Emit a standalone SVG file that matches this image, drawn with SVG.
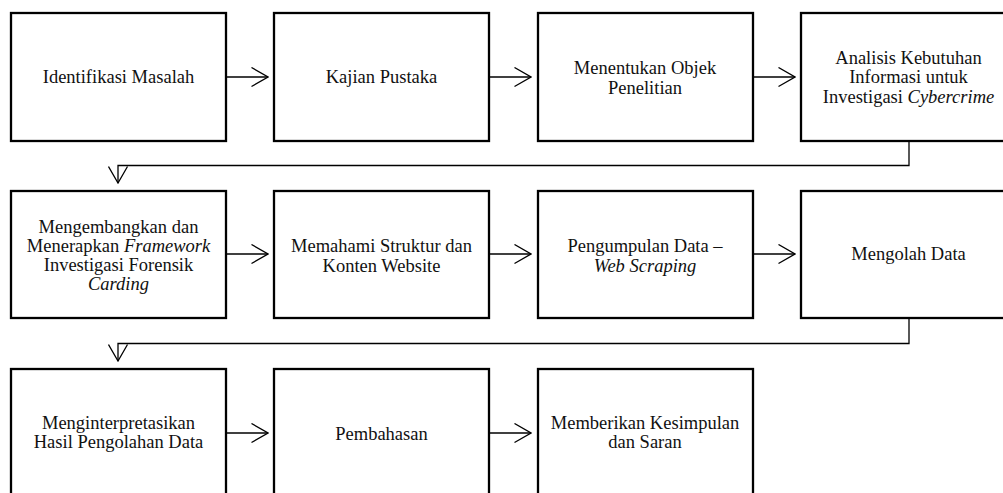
<svg xmlns="http://www.w3.org/2000/svg" width="1003" height="493" viewBox="0 0 1003 493">
<defs>
<style>
.box{fill:#fff;stroke:#000;stroke-width:2.3}
.lbl{font-family:"Liberation Serif","Times New Roman",serif;font-size:18.5px;fill:#111;text-anchor:middle}
.it{font-style:italic}
.con{fill:none;stroke:#000;stroke-width:1.3}
</style>
<marker id="arr" viewBox="0 0 18 21" refX="17" refY="10.5" markerWidth="18" markerHeight="21" markerUnits="userSpaceOnUse" orient="auto">
<path d="M0.5,1 L17,10.5 L0.5,20" fill="none" stroke="#000" stroke-width="1.3"/>
</marker>
</defs>
<rect width="1003" height="493" fill="#fff"/>

<g id="n1"><rect class="box" x="11" y="13" width="215" height="128"/><text class="lbl" x="118.5" y="83">Identifikasi Masalah</text></g>
<g id="n2"><rect class="box" x="274" y="13" width="215" height="128"/><text class="lbl" x="381.5" y="83">Kajian Pustaka</text></g>
<g id="n3"><rect class="box" x="538" y="13" width="215" height="128"/><text class="lbl" x="645" y="74">Menentukan Objek</text><text class="lbl" x="645" y="93.5">Penelitian</text></g>
<g id="n4"><rect class="box" x="801" y="13" width="215" height="128"/><text class="lbl" x="908.5" y="64">Analisis Kebutuhan</text><text class="lbl" x="908.5" y="83.3">Informasi untuk</text><text class="lbl" x="908.5" y="102.6">Investigasi <tspan class="it">Cybercrime</tspan></text></g>

<g id="n5"><rect class="box" x="11" y="191" width="215" height="127"/><text class="lbl" x="118.5" y="232.5">Mengembangkan dan</text><text class="lbl" x="118.5" y="251.7">Menerapkan <tspan class="it">Framework</tspan></text><text class="lbl" x="118.5" y="271">Investigasi Forensik</text><text class="lbl" x="118.5" y="290.2"><tspan class="it">Carding</tspan></text></g>
<g id="n6"><rect class="box" x="274" y="191" width="215" height="127"/><text class="lbl" x="381.5" y="252">Memahami Struktur dan</text><text class="lbl" x="381.5" y="271.5">Konten Website</text></g>
<g id="n7"><rect class="box" x="538" y="191" width="215" height="127"/><text class="lbl" x="645" y="252">Pengumpulan Data –</text><text class="lbl" x="645" y="271.5"><tspan class="it">Web Scraping</tspan></text></g>
<g id="n8"><rect class="box" x="801" y="191" width="215" height="127"/><text class="lbl" x="908.5" y="260">Mengolah Data</text></g>

<g id="n9"><rect class="box" x="11" y="369" width="215" height="140"/><text class="lbl" x="118.5" y="429">Menginterpretasikan</text><text class="lbl" x="118.5" y="448">Hasil Pengolahan Data</text></g>
<g id="n10"><rect class="box" x="274" y="369" width="215" height="140"/><text class="lbl" x="381.5" y="439.5">Pembahasan</text></g>
<g id="n11"><rect class="box" x="538" y="369" width="215" height="140"/><text class="lbl" x="645" y="429">Memberikan Kesimpulan</text><text class="lbl" x="645" y="448">dan Saran</text></g>

<g id="connectors">
<path class="con" d="M226,77 H268" marker-end="url(#arr)"/>
<path class="con" d="M489,77 H531" marker-end="url(#arr)"/>
<path class="con" d="M753,77 H795" marker-end="url(#arr)"/>
<path class="con" d="M909,141 V165.5 H118 V183" marker-end="url(#arr)"/>
<path class="con" d="M226,254 H268" marker-end="url(#arr)"/>
<path class="con" d="M489,254 H531" marker-end="url(#arr)"/>
<path class="con" d="M753,254 H795" marker-end="url(#arr)"/>
<path class="con" d="M909,318 V343.5 H118 V361" marker-end="url(#arr)"/>
<path class="con" d="M226,433 H268" marker-end="url(#arr)"/>
<path class="con" d="M489,433 H531" marker-end="url(#arr)"/>
</g>
</svg>
